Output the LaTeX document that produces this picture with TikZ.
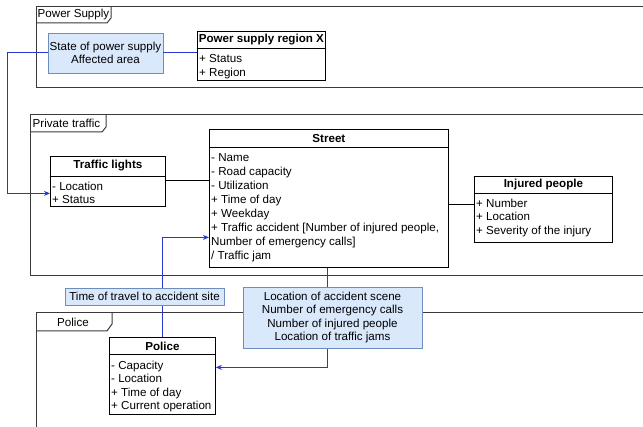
\documentclass[tikz,border=0pt]{standalone}
\usepackage{fontspec}
\setmainfont{Liberation Sans}
\usetikzlibrary{arrows.meta,calc}
\definecolor{noteFill}{HTML}{DAE8FC}
\definecolor{noteLine}{HTML}{6C8EBF}
\definecolor{flow}{RGB}{40,55,205}
\definecolor{frameLine}{HTML}{3A3A3A}
\tikzset{
  framebox/.style={draw=frameLine,line width=1pt},
  classbox/.style={draw=black,line width=0.8pt,fill=white,anchor=north west,inner sep=0pt},
  classtitle/.style={font=\fontsize{11.6}{13}\selectfont\bfseries,anchor=center,inner sep=0pt},
  attrs/.style={font=\fontsize{11.6}{13.6}\selectfont,align=left,anchor=north west,inner sep=0pt},
  note/.style={draw=noteLine,fill=noteFill,line width=0.8pt,align=center,inner sep=0pt,
    font=\fontsize{11.6}{13.6}\selectfont},
  tabtext/.style={font=\fontsize{11.6}{13}\selectfont,inner sep=0pt},
  flowline/.style={draw=flow,line width=1pt},
  flowarrow/.style={flowline,-{Stealth[length=6pt,width=5pt]}},
  plainline/.style={draw=black,line width=0.8pt}
}
\newcommand{\classdivider}[2]{\draw[black,line width=0.8pt] (#1.north west) ++(0,#2) -- ($(#1.north east)+(0,#2)$);}
\begin{document}
\begin{tikzpicture}[x=1pt,y=-1pt]
\useasboundingbox (0,0) rectangle (643,427);

% ---- frames ----
\draw[framebox] (650,7) -- (36,7) -- (36,88) -- (650,88);
\draw[framebox] (36,23) -- (107,23) -- (111,18) -- (111,7);
\node[tabtext,anchor=west] (psTab) at (37.5,15) {Power Supply};

\draw[framebox] (650,115) -- (30,115) -- (30,276) -- (650,276);
\draw[framebox] (30,132) -- (102,132) -- (106,127) -- (106,115);
\node[tabtext,anchor=west] (ptTab) at (32.5,123.5) {Private traffic};

\draw[framebox] (650,313) -- (36,313) -- (36,432);
\draw[framebox] (36,331) -- (107,331) -- (112,324) -- (112,313);
\node[tabtext] (poTab) at (73,322) {Police};

% ---- classes ----
% Power supply region X
\node[classbox,minimum width=128pt,minimum height=49pt] (region) at (197,31) {};
\node[classtitle] (regionT) at ($(region.north)+(0,9)$) {Power supply region X};
\classdivider{region}{17}
\node[attrs] (regionA) at ($(region.north west)+(2,23.5)$) {+ Status\\+ Region};

% Traffic lights
\node[classbox,minimum width=115pt,minimum height=50pt] (tl) at (50,156) {};
\node[classtitle] (tlT) at ($(tl.north)+(0,10)$) {Traffic lights};
\classdivider{tl}{20}
\node[attrs] (tlA) at ($(tl.north west)+(2,25.5)$) {- Location\\+ Status};

% Street
\node[classbox,minimum width=239pt,minimum height=138pt] (street) at (209,129) {};
\node[classtitle] (streetT) at ($(street.north)+(0,10)$) {Street};
\classdivider{street}{18}
\node[attrs,font=\fontsize{11.6}{14.1}\selectfont] (streetA) at ($(street.north west)+(2,24)$)
  {- Name\\- Road capacity\\- Utilization\\+ Time of day\\+ Weekday\\+ Traffic accident [Number of injured people,\\Number of emergency calls]\\/ Traffic jam};

% Injured people
\node[classbox,minimum width=138pt,minimum height=66pt] (injured) at (474,176) {};
\node[classtitle] (injuredT) at ($(injured.north)+(0,9)$) {Injured people};
\classdivider{injured}{17}
\node[attrs] (injuredA) at ($(injured.north west)+(2,22.5)$) {+ Number\\+ Location\\+ Severity of the injury};

% Police
\node[classbox,minimum width=106pt,minimum height=77pt] (police) at (109,337) {};
\node[classtitle] (policeT) at ($(police.north)+(0,9)$) {Police};
\classdivider{police}{17}
\node[attrs] (policeA) at ($(police.north west)+(2,23.5)$) {- Capacity\\- Location\\+ Time of day\\+ Current operation};

% ---- data notes (positions only, drawn after the connectors) ----
\path (105.5,53) coordinate (stateC);
\path (144.5,296.5) coordinate (travelC);
\path (332.5,317.5) coordinate (accC);

% ---- connectors ----
\node[note,minimum width=115pt,minimum height=40pt] (state) at (stateC)
  {State of power supply\\Affected area};
\draw[flowline] (state.east) -- (state.east -| region.west);
\coordinate (leftRail) at (7,53);
\draw[flowarrow] (state.west) -- (leftRail) |- ([yshift=-12pt]tl.west);

\draw[plainline] ([yshift=1pt]tl.east) -- ([yshift=1pt]tl.east -| street.west);
\draw[plainline] ([yshift=5pt]injured.west) -- ([yshift=5pt]injured.west -| street.east);

\draw[flowarrow] (police.north) |- ([yshift=-39pt]street.west);
\draw[flowarrow] ([xshift=-1.5pt]street.south) |- ([yshift=8.5pt]police.east);

\node[note,minimum width=159pt,minimum height=17pt] (travel) at (travelC)
  {Time of travel to accident site};
\node[note,minimum width=179pt,minimum height=61pt] (acc) at (accC)
  {Location of accident scene\\Number of emergency calls\\Number of injured people\\Location of traffic jams};
\end{tikzpicture}
\end{document}
